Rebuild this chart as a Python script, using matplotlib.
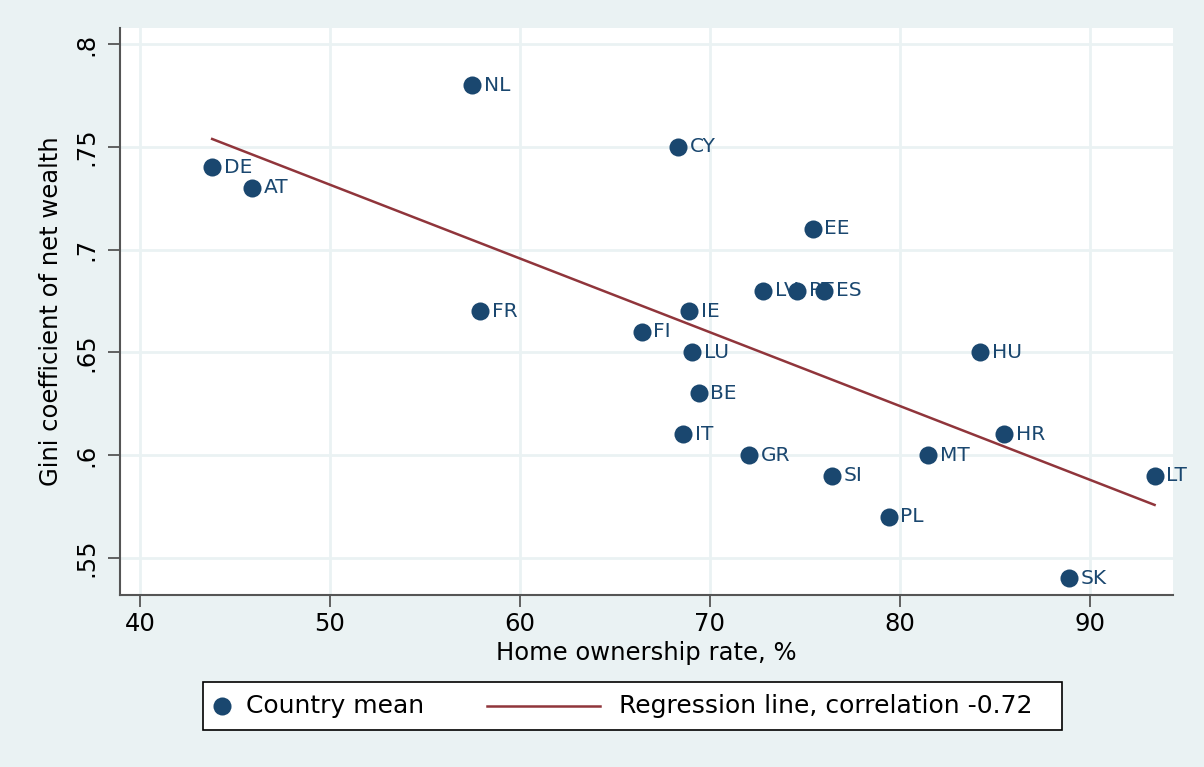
import numpy as np
import matplotlib
matplotlib.use("Agg")
import matplotlib.pyplot as plt
from matplotlib.patches import Rectangle
from matplotlib.lines import Line2D

# ================================
# DATA
# ================================
countries = ["NL", "CY", "DE", "AT", "EE", "LV", "PT", "ES", "FR", "IE", "FI",
             "LU", "HU", "BE", "IT", "HR", "GR", "MT", "SI", "LT", "PL", "SK"]
home_own = [57.5, 68.3, 43.8, 45.9, 75.4, 72.8, 74.6, 76.0, 57.9, 68.9, 66.4,
            69.05, 84.2, 69.4, 68.6, 85.5, 72.05, 81.5, 76.4, 93.4, 79.4, 88.9]
gini = [0.78, 0.75, 0.74, 0.73, 0.71, 0.68, 0.68, 0.68, 0.67, 0.67, 0.66,
        0.65, 0.65, 0.63, 0.61, 0.61, 0.60, 0.60, 0.59, 0.59, 0.57, 0.54]

reg_x0, reg_y0 = 43.8, 0.7538
reg_slope = -0.00359

x_ticks = [40, 50, 60, 70, 80, 90]
y_ticks = [0.55, 0.60, 0.65, 0.70, 0.75, 0.80]
y_tick_labels = [".55", ".6", ".65", ".7", ".75", ".8"]

# ================================
# STYLE
# ================================
BG = "#eaf2f3"
NAVY = "#1a476f"
MAROON = "#90353b"
plt.rcParams["font.family"] = ["DejaVu Sans"]

W, H = 1204, 767
fig = plt.figure(figsize=(W / 100, H / 100), dpi=100, facecolor=BG)
ax = fig.add_axes([120 / W, 1 - 595 / H, (1173 - 120) / W, (595 - 28) / H])
ax.set_facecolor("white")

ax.set_xlim(38.95, 94.37)
ax.set_ylim(0.5319, 0.8078)

ax.grid(True, color=BG, linewidth=2)
ax.set_axisbelow(True)
for s in ["top", "right"]:
    ax.spines[s].set_visible(False)
for s in ["left", "bottom"]:
    ax.spines[s].set_color("#555555")
    ax.spines[s].set_linewidth(1.5)

ax.set_xticks(x_ticks)
ax.set_yticks(y_ticks)
ax.set_yticklabels(y_tick_labels, rotation=90, va="center")
ax.tick_params(axis="both", direction="out", length=8.5, width=1.3, color="#555555",
               labelsize=17.5)
ax.tick_params(axis="x", pad=4)
ax.tick_params(axis="y", pad=7)

# regression line
xs = np.array([min(home_own), max(home_own)])
ys = reg_y0 + reg_slope * (xs - reg_x0)
ax.plot(xs, ys, color=MAROON, linewidth=1.8, zorder=2)

# points + labels
ax.plot(home_own, gini, "o", color=NAVY, markersize=13, markeredgewidth=0, zorder=3)
for c, xv, yv in zip(countries, home_own, gini):
    ax.annotate(c, (xv, yv), xytext=(8.5, 0), textcoords="offset points",
                ha="left", va="center", color=NAVY, fontsize=14.5, zorder=4)

ax.set_xlabel("Home ownership rate, %", fontsize=17.5, labelpad=3)
ax.set_ylabel("Gini coefficient of net wealth", fontsize=17.5, labelpad=8)

# ================================
# LEGEND (drawn by hand, Stata look)
# ================================
lg = fig.add_axes([0, 0, 1, 1], facecolor="none")
lg.set_xlim(0, W)
lg.set_ylim(H, 0)
lg.axis("off")
lg.add_patch(Rectangle((203, 682), 859, 48, facecolor="white", edgecolor="black", linewidth=1.2))
lg.add_line(Line2D([222], [706], marker="o", color=NAVY, markersize=13, markeredgewidth=0, linestyle="None"))
lg.text(246, 706, "Country mean", fontsize=18, va="center", ha="left")
lg.add_line(Line2D([487, 600], [706, 706], color=MAROON, linewidth=1.8))
lg.text(619, 706, "Regression line, correlation -0.72", fontsize=18, va="center", ha="left")

fig.savefig("out.png", dpi=100, facecolor=BG)
